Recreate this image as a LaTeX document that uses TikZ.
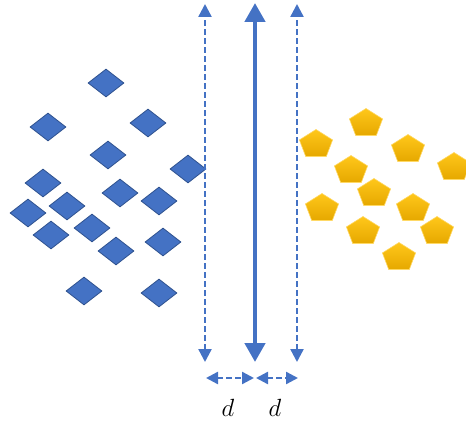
\documentclass[tikz,border=0pt]{standalone}
\usetikzlibrary{shapes.geometric,arrows.meta}
\definecolor{dblue}{HTML}{4472C4}
\definecolor{dborder}{HTML}{2F528F}
\definecolor{goldtop}{HTML}{FFC71A}
\definecolor{goldbot}{HTML}{E6A800}
\definecolor{goldedge}{HTML}{FFD966}
\tikzset{
  dia/.style={diamond, fill=dblue, draw=dborder, line width=0.8pt, minimum width=36pt, minimum height=28pt, inner sep=0pt},
  pent/.pic={\shade[top color=goldtop, bottom color=goldbot, draw=goldedge, line width=0.6pt]
     (0,13.5) -- (-16.6,3.1) -- (-10.3,-13.5) -- (10.3,-13.5) -- (16.6,3.1) -- cycle;},
  thinarr/.style={draw=dblue, line width=2.4pt, dash pattern=on 6pt off 3pt, {Triangle[length=13pt,width=13pt]}-{Triangle[length=13pt,width=13pt]}},
  thickarr/.style={draw=dblue, line width=4.5pt, {Triangle[length=19pt,width=20pt]}-{Triangle[length=19pt,width=20pt]}},
  darr/.style={draw=dblue, line width=2.4pt, dash pattern=on 6pt off 3pt, {Triangle[length=12pt,width=12pt]}-{Triangle[length=12pt,width=12pt]}},
  lbl/.style={font=\fontsize{25}{28}\selectfont, inner sep=0pt}
}
\begin{document}
\begin{tikzpicture}[x=1pt,y=1pt]
\useasboundingbox (0,0) rectangle (466,421);
\clip (0,0) rectangle (466,421);
% diamonds
\foreach \n/\x/\y in {1/106/338,2/48/294,3/148/298,4/108/266,5/188/252,6/43/238,7/120/228,8/159/220,9/67/215,10/28/208,11/92/193,12/51/186,13/163/179,14/116/170,15/84/130,16/159/128}
  \node[dia] (d\n) at (\x,\y) {};
% pentagons
\foreach \n/\x/\y in {1/366/299,2/316/278,3/408/273,4/454/255,5/351/252,6/374/229,7/322/214,8/413/214,9/363/191,10/437/191,11/399/165}
  \pic (p\n) at (\x,\y) {pent};
% vertical arrows
\coordinate (lt) at (205,417); \coordinate (lb) at (205,59);
\coordinate (mt) at (255,418); \coordinate (mb) at (255,59);
\coordinate (rt) at (297,417); \coordinate (rb) at (297,59);
\draw[thinarr] (lb) -- (lt);
\draw[thickarr] (mb) -- (mt);
\draw[thinarr] (rb) -- (rt);
% distance arrows
\coordinate (a1) at (206,43); \coordinate (a2) at (254,43);
\coordinate (b1) at (256,43); \coordinate (b2) at (298,43);
\draw[darr] (a1) -- (a2);
\draw[darr] (b1) -- (b2);
\node[lbl] (d1l) at (228,13) {$d$};
\node[lbl] (d2l) at (275,13) {$d$};
\end{tikzpicture}
\end{document}
